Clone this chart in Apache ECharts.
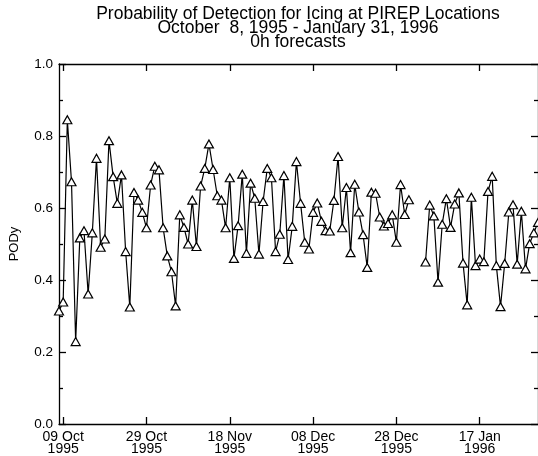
<!DOCTYPE html>
<html>
<head>
<meta charset="utf-8">
<script src="https://cdn.jsdelivr.net/npm/echarts@6/dist/echarts.min.js"></script>
<style>
html,body{margin:0;padding:0;background:#fff;}
#c{width:538px;height:456px;}
</style>
</head>
<body>
<div id="c"></div>
<script>
// Daily dates from 8 Oct 1995 to 31 Jan 1996
var startDate = [1995, 9, 8];
var dayCount = 116;
var monthNames = ['Jan','Feb','Mar','Apr','May','Jun','Jul','Aug','Sep','Oct','Nov','Dec'];
var categories = [];
for (var i = 0; i < dayCount; i++) {
  var d = new Date(Date.UTC(startDate[0], startDate[1], startDate[2] + i));
  var dd = ('0' + d.getUTCDate()).slice(-2);
  categories.push(dd + ' ' + monthNames[d.getUTCMonth()] + '\n' + d.getUTCFullYear());
}
var tickLabelDates = ['09 Oct\n1995','29 Oct\n1995','18 Nov\n1995','08 Dec\n1995','28 Dec\n1995','17 Jan\n1996'];
var yTicks = [0.0, 0.2, 0.4, 0.6, 0.8, 1.0];

// PODy values, one per day (null = no data)
var pody = [
  0.314, 0.339, 0.845, 0.673, 0.229, 0.517, 0.537, 0.361, 0.531, 0.738,
  0.491, 0.514, 0.787, 0.687, 0.613, 0.692, 0.479, 0.325, 0.643, 0.622,
  0.588, 0.545, 0.664, 0.716, 0.706, 0.545, 0.467, 0.423, 0.328, 0.581,
  0.546, 0.500, 0.622, 0.493, 0.661, 0.710, 0.778, 0.707, 0.634, 0.622,
  0.545, 0.684, 0.460, 0.551, 0.694, 0.474, 0.669, 0.627, 0.472, 0.618,
  0.710, 0.684, 0.479, 0.527, 0.690, 0.457, 0.549, 0.729, 0.613, 0.505,
  0.486, 0.588, 0.614, 0.563, 0.537, 0.536, 0.621, 0.743, 0.545, 0.657,
  0.476, 0.666, 0.589, 0.526, 0.435, 0.644, 0.641, 0.575, 0.550, 0.557,
  0.581, 0.505, 0.665, 0.582, 0.623, null, null, null, 0.450, 0.608,
  0.578, 0.394, 0.555, 0.626, 0.546, 0.611, 0.642, 0.447, 0.331, 0.630,
  0.440, 0.458, 0.451, 0.646, 0.688, 0.440, 0.326, 0.446, 0.589, 0.609,
  0.444, 0.591, 0.431, 0.501, 0.531, 0.560
];

var FONT = 'Liberation Sans, Arial, Helvetica, sans-serif';
function isTick(idx){ return tickLabelDates.indexOf(categories[idx]) >= 0; }

var chart = echarts.init(document.getElementById('c'), null, {renderer:'canvas'});
var axisLine = {show:true, onZero:false, lineStyle:{color:'#000', width:1.3}};
var xTick = {show:true, inside:true, length:7, interval:function(i){return isTick(i);}, lineStyle:{color:'#000', width:1.3}};
chart.setOption({
  animation:false,
  backgroundColor:'#fff',
  graphic:[{
    type:'text', x:298, y:7,
    style:{
      text:'Probability of Detection for Icing at PIREP Locations\nOctober  8, 1995 - January 31, 1996\n0h forecasts',
      textAlign:'center', fill:'#000', font:'17.5px ' + FONT, lineHeight:14
    }
  }],
  grid:{left:57, right:-2, top:64, bottom:32, containLabel:false},
  xAxis:[{
    type:'category', data:categories, boundaryGap:false, position:'bottom',
    axisLine:axisLine, axisTick:xTick,
    axisLabel:{show:true, interval:function(i){return isTick(i);}, color:'#000', fontFamily:FONT, fontSize:14, lineHeight:12, margin:7},
    splitLine:{show:false}
  },{
    type:'category', data:categories, boundaryGap:false, position:'top',
    axisLine:axisLine, axisTick:xTick, axisLabel:{show:false}, splitLine:{show:false}
  }],
  yAxis:[{
    type:'value', min:0, max:1, interval:0.2, position:'left',
    name:'PODy', nameLocation:'middle', nameGap:38, nameRotate:90,
    nameTextStyle:{color:'#000', fontFamily:FONT, fontSize:13},
    axisLine:axisLine,
    axisTick:{show:true, inside:true, length:7, lineStyle:{color:'#000', width:1.3}},
    minorTick:{show:true, splitNumber:2, length:4, lineStyle:{color:'#000', width:1.3}},
    axisLabel:{color:'#000', fontFamily:FONT, fontSize:13.5, margin:6, formatter:function(v){return v.toFixed(1);}},
    splitLine:{show:false}, minorSplitLine:{show:false}
  },{
    type:'value', min:0, max:1, interval:0.2, position:'right',
    axisLine:axisLine,
    axisTick:{show:true, inside:true, length:7, lineStyle:{color:'#000', width:1.3}},
    minorTick:{show:true, splitNumber:2, length:4, lineStyle:{color:'#000', width:1.3}},
    axisLabel:{show:false}, splitLine:{show:false}
  }],
  series:[{
    type:'line', data:pody, xAxisIndex:0, yAxisIndex:0,
    connectNulls:false, clip:true,
    symbol:'triangle', symbolSize:[9,8], showAllSymbol:true,
    itemStyle:{color:'#fff', borderColor:'#000', borderWidth:1.2},
    lineStyle:{color:'#000', width:1.2},
    emphasis:{disabled:true}
  }]
});
</script>
</body>
</html>
